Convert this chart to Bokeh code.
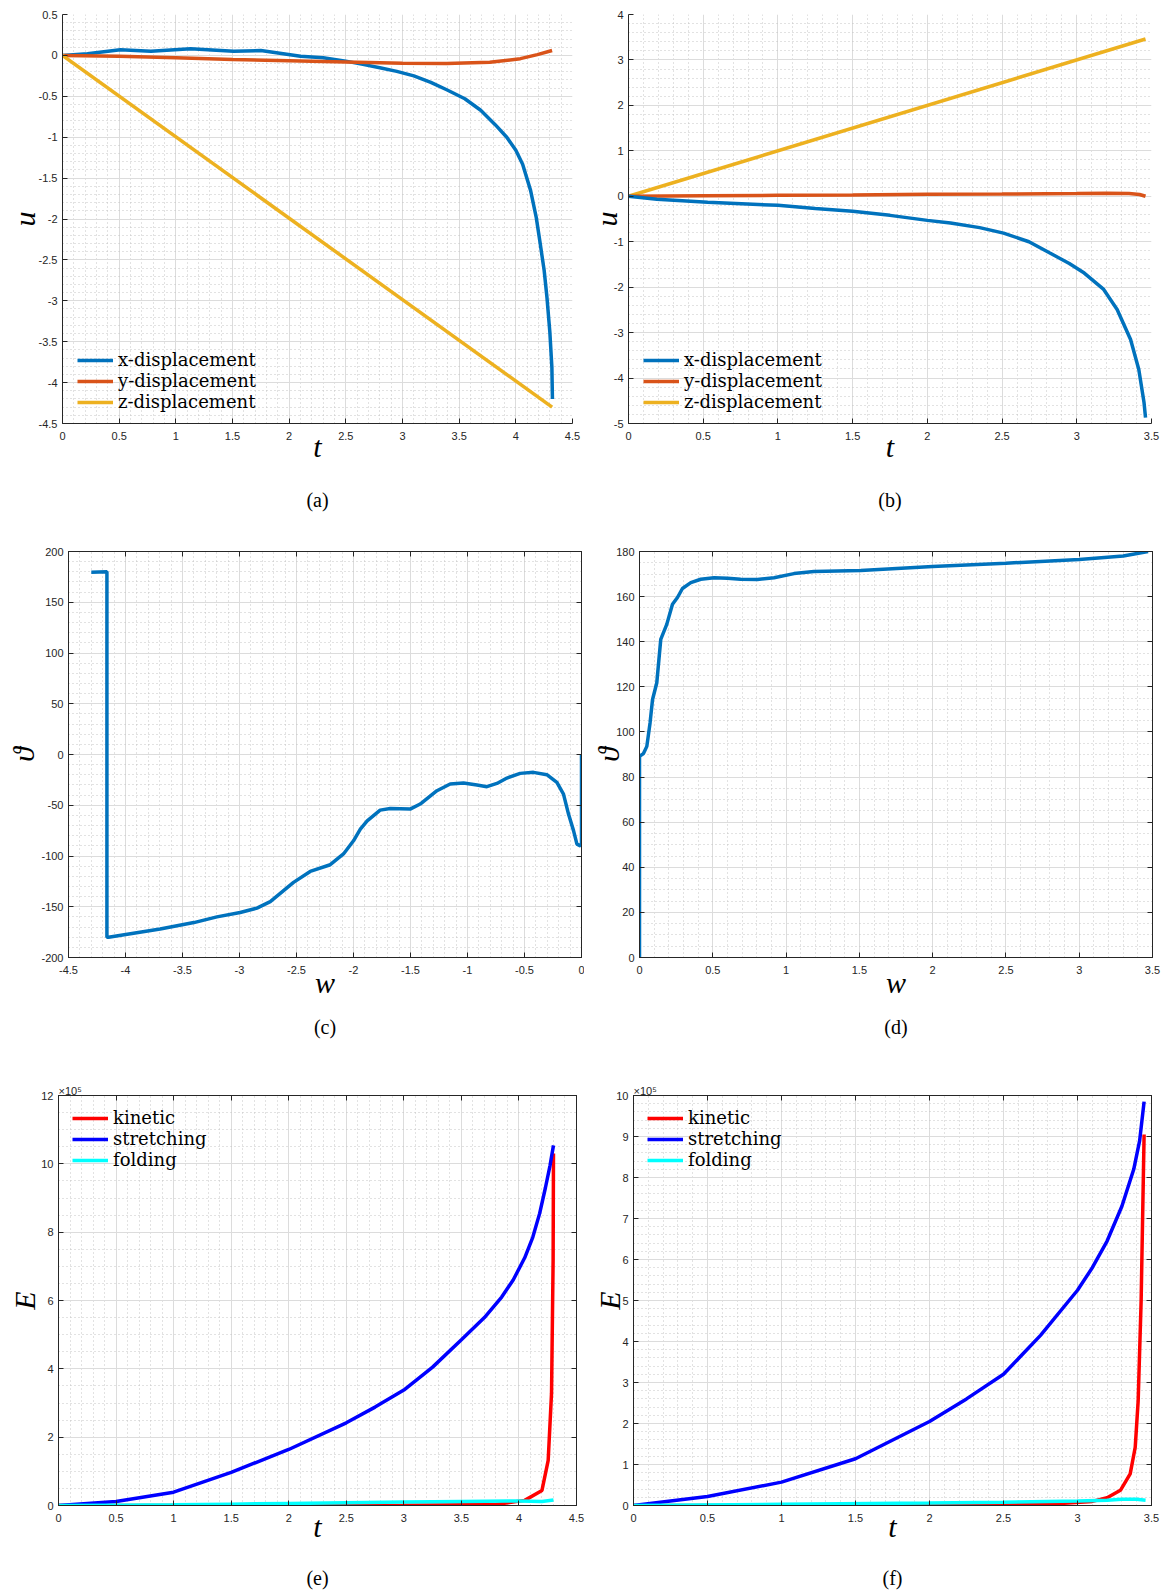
from bokeh.plotting import figure
from bokeh.models import FixedTicker, LinearAxis, Legend, LegendItem, Title, Range1d
from bokeh.layouts import column, row
from bokeh.embed import file_html
from bokeh.resources import INLINE

# ---------------- data ----------------
# (a)
ta_x = [0, 0.22, 0.51, 0.78, 1.13, 1.51, 1.75, 2.1, 2.3, 2.5, 2.65, 2.8, 2.95, 3.1, 3.25, 3.39, 3.55,
        3.69, 3.82, 3.92, 4.0, 4.06, 4.13, 4.18, 4.215, 4.25, 4.274, 4.30, 4.318, 4.323]
ua_x = [0, 0.02, 0.07, 0.05, 0.08, 0.05, 0.06, -0.01, -0.03, -0.07, -0.11, -0.15, -0.195, -0.25, -0.33,
        -0.42, -0.53, -0.67, -0.85, -1.0, -1.16, -1.33, -1.65, -1.98, -2.3, -2.63, -2.95, -3.38, -3.81, -4.2]
ta_y = [0, 0.5, 1, 1.5, 2, 2.5, 3, 3.39, 3.77, 4.04, 4.19, 4.32]
ua_y = [0, -0.01, -0.03, -0.05, -0.065, -0.08, -0.095, -0.10, -0.085, -0.04, 0.01, 0.06]
ta_z = [0, 4.32]
ua_z = [0, -4.3]
# (b)
tb_x = [0, 0.19, 0.53, 1.0, 1.25, 1.5, 1.75, 2.0, 2.155, 2.35, 2.51, 2.68, 2.82, 2.95, 3.05, 3.18, 3.27,
        3.36, 3.415, 3.45, 3.46]
ub_x = [0, -0.066, -0.13, -0.2, -0.27, -0.33, -0.42, -0.53, -0.59, -0.69, -0.81, -1.0, -1.25, -1.48,
        -1.69, -2.05, -2.49, -3.15, -3.81, -4.54, -4.87]
tb_y = [0, 0.5, 1, 1.5, 2, 2.5, 3, 3.2, 3.35, 3.42, 3.46]
ub_y = [0, 0.01, 0.02, 0.03, 0.045, 0.05, 0.06, 0.065, 0.06, 0.04, 0.0]
tb_z = [0, 3.46]
ub_z = [0, 3.46]
# (c)
w_c = [0, 0, -0.01, -0.04, -0.07, -0.114, -0.158, -0.216, -0.304, -0.421, -0.538, -0.654, -0.742, -0.83,
       -0.917, -1.035, -1.152, -1.268, -1.415, -1.503, -1.678, -1.766, -1.88, -1.94, -2.0, -2.088, -2.204,
       -2.38, -2.526, -2.73, -2.847, -2.994, -3.198, -3.40, -3.696, -4.149, -4.163, -4.163, -4.30]
th_c = [0, -88, -90, -88.3, -75, -58.7, -39, -27.5, -19.9, -17.6, -18.6, -23.2, -28.5, -31.7,
        -30.1, -28.1, -29.1, -35.7, -48.8, -53.8, -53.2, -54.8, -65.3, -73.5, -85, -98, -108.6,
        -115.2, -126, -145, -151.4, -155.7, -160, -165.6, -172, -180, -180, 180, 179.5]
# (d)
w_d = [0, 0, 0.027, 0.05, 0.072, 0.089, 0.118, 0.145, 0.186, 0.225, 0.259, 0.293, 0.35, 0.418, 0.509,
       0.6, 0.69, 0.804, 0.918, 1.054, 1.19, 1.509, 2.0, 2.5, 3.0, 3.3, 3.47]
th_d = [0, 89.2, 90.4, 93.6, 104, 114.4, 121.8, 141, 147.7, 156.6, 159.6, 163.6, 166.2, 167.7, 168.4,
        168.1, 167.7, 167.6, 168.4, 170.2, 171.1, 171.6, 173.3, 174.8, 176.5, 178, 180]
# (e)  energies in units of 1e5
te_s = [0, 0.5, 1, 1.5, 2, 2.5, 2.75, 3, 3.25, 3.5, 3.7, 3.85, 3.95, 4.05, 4.12, 4.18, 4.23, 4.27, 4.30]
Ee_s = [0, 0.12, 0.39, 0.97, 1.64, 2.42, 2.88, 3.38, 4.05, 4.85, 5.5, 6.1, 6.6, 7.25, 7.85, 8.55, 9.3, 9.95, 10.54]
te_k = [0, 1, 2, 3, 3.8, 4.05, 4.2, 4.254, 4.283, 4.297, 4.30]
Ee_k = [0, 0, 0, 0.01, 0.03, 0.15, 0.44, 1.32, 3.28, 7.2, 10.3]
te_f = [0, 0.5, 1, 1.5, 2, 2.5, 3, 3.5, 4, 4.2, 4.3]
Ee_f = [0, 0.01, 0.02, 0.04, 0.06, 0.08, 0.1, 0.12, 0.13, 0.12, 0.16]
# (f)
tf_s = [0, 0.5, 1, 1.5, 2, 2.25, 2.5, 2.75, 3, 3.1, 3.2, 3.3, 3.38, 3.42, 3.45]
Ef_s = [0, 0.22, 0.57, 1.14, 2.05, 2.6, 3.2, 4.15, 5.25, 5.8, 6.45, 7.3, 8.2, 8.9, 9.85]
tf_k = [0, 1, 2, 2.8, 3.1, 3.2, 3.29, 3.356, 3.39, 3.41, 3.43, 3.45]
Ef_k = [0, 0, 0.01, 0.03, 0.1, 0.19, 0.37, 0.77, 1.42, 2.56, 5.0, 9.05]
tf_f = [0, 1, 2, 2.5, 3, 3.2, 3.3, 3.4, 3.46]
Ef_f = [0, 0.03, 0.06, 0.08, 0.11, 0.13, 0.15, 0.15, 0.13]

# tick values
ticks_t45 = [0, 0.5, 1, 1.5, 2, 2.5, 3, 3.5, 4, 4.5]
ticks_t35 = [0, 0.5, 1, 1.5, 2, 2.5, 3, 3.5]
ticks_ua = [-4.5, -4, -3.5, -3, -2.5, -2, -1.5, -1, -0.5, 0, 0.5]
ticks_ub = [-5, -4, -3, -2, -1, 0, 1, 2, 3, 4]
ticks_wc = [-4.5, -4, -3.5, -3, -2.5, -2, -1.5, -1, -0.5, 0]
ticks_thc = [-200, -150, -100, -50, 0, 50, 100, 150, 200]
ticks_thd = [0, 20, 40, 60, 80, 100, 120, 140, 160, 180]
ticks_Ee = [0, 2, 4, 6, 8, 10, 12]
ticks_Ef = [0, 1, 2, 3, 4, 5, 6, 7, 8, 9, 10]

# ---------------- style ----------------
AX = "#262626"
TICK_FONT = "Liberation Sans"
LBL_FONT = "Liberation Serif"
LEG_FONT = "DejaVu Serif"
C1, C2, C3 = "#0072BD", "#D95319", "#EDB120"


def fmt(v):
    return "%g" % v


def minors(tk, n):
    out = []
    for a, b in zip(tk[:-1], tk[1:]):
        for k in range(1, n):
            out.append(a + k * (b - a) / n)
    return out


def style_axis(ax, ticks, nminor, show_labels=True, standoff=5):
    ax.ticker = FixedTicker(ticks=ticks, minor_ticks=minors(ticks, nminor))
    ax.axis_line_color = AX
    ax.axis_line_width = 1
    ax.major_tick_line_color = AX
    ax.major_tick_line_width = 1
    ax.major_tick_in = 5
    ax.major_tick_out = 0
    ax.minor_tick_line_color = None
    ax.minor_tick_in = 0
    ax.minor_tick_out = 0
    if show_labels:
        ax.major_label_overrides = {float(v): fmt(v) for v in ticks}
        ax.major_label_text_font = TICK_FONT
        ax.major_label_text_font_size = "11px"
        ax.major_label_text_color = AX
        ax.major_label_standoff = standoff
    else:
        ax.major_label_text_font_size = "0px"
        ax.major_label_text_alpha = 0
        ax.major_label_standoff = 0


def panel(xr, yr, xt, yt, xn, yn, fw, fh, bl, bt, br, bb, box,
          xlabel, ylabel, xso, yso, caption, cap_so, cap_off):
    p = figure(frame_width=fw, frame_height=fh, x_range=Range1d(*xr), y_range=Range1d(*yr),
               output_backend="svg", toolbar_location=None, title=None,
               min_border_left=bl, min_border_top=bt, min_border_right=br, min_border_bottom=bb,
               background_fill_color="white", border_fill_color="white")
    xa, ya = p.xaxis[0], p.yaxis[0]
    style_axis(xa, xt, xn, standoff=8)
    style_axis(ya, yt, yn, standoff=5)
    for ax, lab, so in ((xa, xlabel, xso), (ya, ylabel, yso)):
        ax.axis_label = lab
        ax.axis_label_text_font = LBL_FONT
        ax.axis_label_text_font_style = "italic"
        ax.axis_label_text_font_size = "30px"
        ax.axis_label_text_color = "black"
        ax.axis_label_standoff = so
    for g, tk, n in ((p.xgrid[0], xt, xn), (p.ygrid[0], yt, yn)):
        g.ticker = FixedTicker(ticks=tk, minor_ticks=minors(tk, n))
        g.grid_line_color = "#dcdcdc"
        g.grid_line_width = 1
        g.minor_grid_line_color = "#c4c4c4"
        g.minor_grid_line_dash = "1 3"
        g.minor_grid_line_width = 1
    if box:
        p.outline_line_color = AX
        p.outline_line_width = 1
        top = LinearAxis()
        style_axis(top, xt, xn, show_labels=False)
        right = LinearAxis()
        style_axis(right, yt, yn, show_labels=False)
        p.add_layout(top, "above")
        p.add_layout(right, "right")
    else:
        p.outline_line_color = None
    p.add_layout(Title(text=caption, align="center", offset=cap_off, text_font=LBL_FONT,
                       text_font_size="20px", text_font_style="normal", text_color="black",
                       standoff=cap_so), "below")
    return p


def legend(p, items, x, ys):
    # one single-entry legend per row, so the row pitch matches the reference
    for (lab, r), y in zip(items, ys):
        leg = Legend(items=[LegendItem(label=lab, renderers=[r])], location=(x, y),
                     orientation="vertical", border_line_color=None, background_fill_alpha=0,
                     label_text_font=LEG_FONT, label_text_font_size="18px", label_text_color="black",
                     glyph_width=36, glyph_height=18, label_height=18, label_standoff=5,
                     spacing=0, padding=0, margin=0)
        p.add_layout(leg)


def exponent(p):
    p.add_layout(Title(text="\u00d710\u2075", align="left", text_font=TICK_FONT, text_font_size="11px",
                       text_font_style="normal", text_color=AX, standoff=-3), "above")


LW = 3.5

# (a)  frame: left 62, top 14, 510 x 409
pa = panel((0, 4.5), (-4.5, 0.5), ticks_t45, ticks_ua, 5, 5, 510, 409, 62, 14, 10, 110, False,
           "t", "u", -13, -5, "(a)", 42, 10)
r1 = pa.line(ta_x, ua_x, line_color=C1, line_width=LW)
r2 = pa.line(ta_y, ua_y, line_color=C2, line_width=LW)
r3 = pa.line(ta_z, ua_z, line_color=C3, line_width=LW)
legend(pa, [("x-displacement", r1), ("y-displacement", r2), ("z-displacement", r3)], 15, (53, 32, 11))

# (b)  frame: left 628, top 14, 523 x 409
pb = panel((0, 3.5), (-5, 4), ticks_t35, ticks_ub, 5, 5, 523, 409, 46, 14, 12, 110, False,
           "t", "u", -13, -12, "(b)", 42, 6)
r3b = pb.line(tb_z, ub_z, line_color=C3, line_width=LW)
r2b = pb.line(tb_y, ub_y, line_color=C2, line_width=LW)
r1b = pb.line(tb_x, ub_x, line_color=C1, line_width=LW)
legend(pb, [("x-displacement", r1b), ("y-displacement", r2b), ("z-displacement", r3b)], 15, (53, 32, 11))

# (c)  frame: left 68, top 551, 513 x 406
pc = panel((-4.5, 0), (-200, 200), ticks_wc, ticks_thc, 5, 5, 513, 406, 68, 18, 3, 105, True,
           "w", "\u03d1", -11, -2, "(c)", 25, 3)
pc.line(w_c, th_c, line_color=C1, line_width=LW)

# (d)  frame: left 639, top 551, 513 x 406
pd = panel((0, 3.5), (0, 180), ticks_t35, ticks_thd, 5, 4, 513, 406, 55, 18, 12, 105, True,
           "w", "\u03d1", -11, -12, "(d)", 25, 0)
pd.line(w_d, th_d, line_color=C1, line_width=LW)

# (e)  frame: left 58, top 1095, 518 x 410
pe = panel((0, 4.5), (0, 12), ticks_t45, ticks_Ee, 5, 4, 518, 410, 58, 33, 9, 89, True,
           "t", "E", -15, -3, "(e)", 39, 10)
rk = pe.line(te_k, Ee_k, line_color="#FF0000", line_width=LW)
rs = pe.line(te_s, Ee_s, line_color="#0000FF", line_width=LW)
rf = pe.line(te_f, Ee_f, line_color="#00FFFF", line_width=LW)
legend(pe, [("kinetic", rk), ("stretching", rs), ("folding", rf)], 14, (377, 356, 335))
exponent(pe)

# (f)  frame: left 633, top 1095, 518 x 410
pf = panel((0, 3.5), (0, 10), ticks_t35, ticks_Ef, 5, 5, 518, 410, 48, 33, 12, 89, True,
           "t", "E", -15, -13, "(f)", 39, 3)
rkf = pf.line(tf_k, Ef_k, line_color="#FF0000", line_width=LW)
rsf = pf.line(tf_s, Ef_s, line_color="#0000FF", line_width=LW)
rff = pf.line(tf_f, Ef_f, line_color="#00FFFF", line_width=LW)
legend(pf, [("kinetic", rkf), ("stretching", rsf), ("folding", rff)], 14, (377, 356, 335))
exponent(pf)

layout = column(row(pa, pb), row(pc, pd), row(pe, pf))
open("out.html", "w").write(file_html(layout, INLINE))
